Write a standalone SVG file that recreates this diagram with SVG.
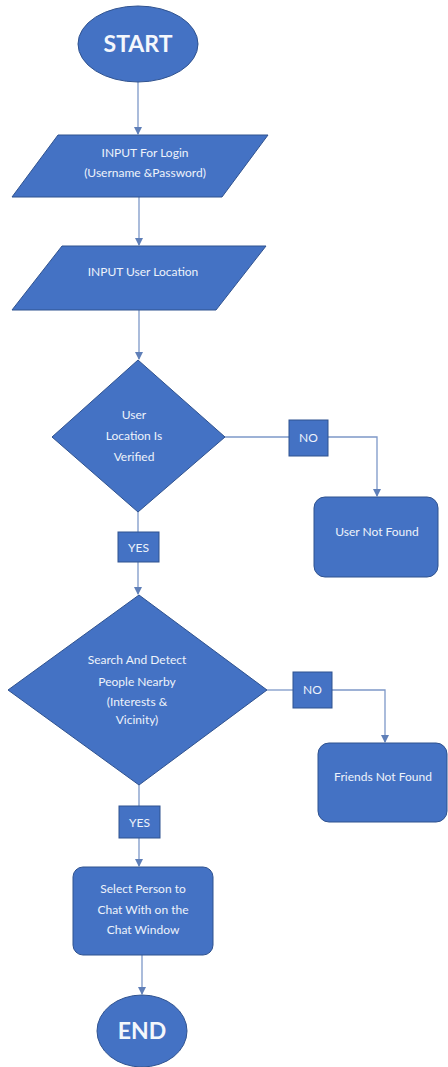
<svg xmlns="http://www.w3.org/2000/svg" width="448" height="1067" viewBox="0 0 448 1067">
<defs>
<style>
.s{fill:#4472c4;stroke:#2f528f;stroke-width:1}
.t{font-family:Lato,"Liberation Sans",sans-serif;font-size:12px;fill:#eef3fb;text-anchor:middle}
.b{font-family:Lato,"Liberation Sans",sans-serif;font-size:23px;font-weight:bold;fill:#f4f7fc;text-anchor:middle}
.c{fill:none;stroke:#7d98c8;stroke-width:1.3}
</style>
<marker id="ah" markerWidth="8" markerHeight="8" refX="7" refY="4" orient="auto" markerUnits="userSpaceOnUse">
<path d="M0,0 L8,4 L0,8 Z" fill="#5f7fb8"/>
</marker>
</defs>
<rect width="448" height="1067" fill="#ffffff"/>
<g id="connectors">
<path class="c" d="M138,82 V134" marker-end="url(#ah)"/>
<path class="c" d="M139,197 V245" marker-end="url(#ah)"/>
<path class="c" d="M139,310 V359" marker-end="url(#ah)"/>
<path class="c" d="M225,437 H289"/>
<path class="c" d="M328,437 H377 V496" marker-end="url(#ah)"/>
<path class="c" d="M138,512 V532"/>
<path class="c" d="M138,562 V594" marker-end="url(#ah)"/>
<path class="c" d="M267,690 H293"/>
<path class="c" d="M332,690 H385 V742" marker-end="url(#ah)"/>
<path class="c" d="M139,785 V806"/>
<path class="c" d="M139,838 V866" marker-end="url(#ah)"/>
<path class="c" d="M142,955 V994" marker-end="url(#ah)"/>
</g>
<g id="start">
<ellipse class="s" cx="138" cy="44" rx="60" ry="38"/>
<text class="b" x="138" y="52">START</text>
</g>
<g id="input-login">
<polygon class="s" points="58,135 268,135 222,197 12,197"/>
<text class="t" x="145" y="157">INPUT For Login</text>
<text class="t" x="145" y="177">(Username &amp;Password)</text>
</g>
<g id="input-location">
<polygon class="s" points="62,246 266,246 216,310 12,310"/>
<text class="t" x="143" y="276">INPUT User Location</text>
</g>
<g id="decision-location">
<polygon class="s" points="138,360 225,437 138,512 52,437"/>
<text class="t" x="134" y="419">User</text>
<text class="t" x="134" y="440">Location Is</text>
<text class="t" x="134" y="461">Verified</text>
</g>
<g id="no-1">
<rect class="s" x="289" y="420" width="39" height="36"/>
<text class="t" x="308.5" y="442">NO</text>
</g>
<g id="user-not-found">
<rect class="s" x="314" y="497" width="124" height="80" rx="11"/>
<text class="t" x="377" y="536">User Not Found</text>
</g>
<g id="yes-1">
<rect class="s" x="118" y="532" width="41" height="30"/>
<text class="t" x="138.5" y="551.5">YES</text>
</g>
<g id="decision-search">
<polygon class="s" points="139,595 267,690 139,785 8,690"/>
<text class="t" x="137" y="664">Search And Detect</text>
<text class="t" x="137" y="686">People Nearby</text>
<text class="t" x="137" y="706">(Interests &amp;</text>
<text class="t" x="137" y="724">Vicinity)</text>
</g>
<g id="no-2">
<rect class="s" x="293" y="672" width="39" height="36"/>
<text class="t" x="312.5" y="694">NO</text>
</g>
<g id="friends-not-found">
<rect class="s" x="318" y="743" width="129" height="79" rx="11"/>
<text class="t" x="383" y="781">Friends Not Found</text>
</g>
<g id="yes-2">
<rect class="s" x="119" y="806" width="41" height="32"/>
<text class="t" x="139.5" y="826.5">YES</text>
</g>
<g id="select-person">
<rect class="s" x="73" y="867" width="140" height="88" rx="10"/>
<text class="t" x="143" y="893">Select Person to</text>
<text class="t" x="143" y="914">Chat With on the</text>
<text class="t" x="143" y="934">Chat Window</text>
</g>
<g id="end">
<ellipse class="s" cx="142" cy="1031" rx="45" ry="36"/>
<text class="b" x="142" y="1039">END</text>
</g>
</svg>
